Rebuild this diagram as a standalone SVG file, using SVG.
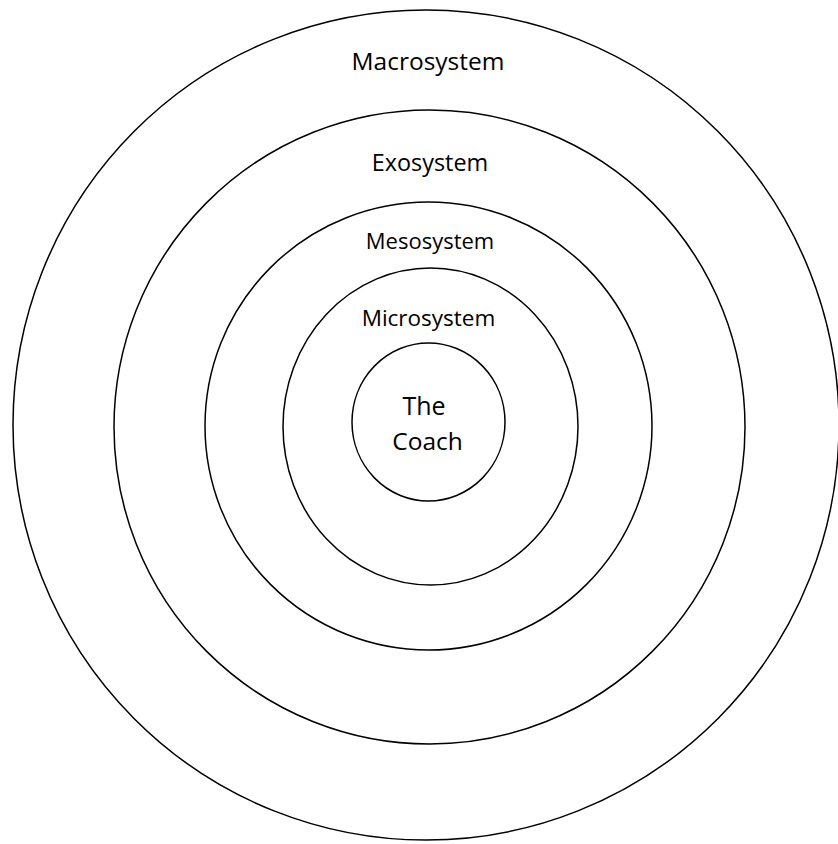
<svg xmlns="http://www.w3.org/2000/svg" width="838" height="844" viewBox="0 0 838 844">
  <style>
    .ring { fill: none; stroke: #000; stroke-width: 1.5; }
    .label { font-family: "Open Sans", "Noto Sans", sans-serif; fill: #000; text-anchor: middle; }
  </style>
  <rect width="838" height="844" fill="#fff"/>
  <g id="macrosystem">
    <ellipse class="ring" cx="426" cy="425" rx="413" ry="415"/>
    <text class="label" x="428" y="70" font-size="24.5">Macrosystem</text>
  </g>
  <g id="exosystem">
    <ellipse class="ring" cx="429.5" cy="427" rx="315.5" ry="317"/>
    <text class="label" x="430" y="171" font-size="23.4">Exosystem</text>
  </g>
  <g id="mesosystem">
    <ellipse class="ring" cx="428.5" cy="426" rx="223.5" ry="224"/>
    <text class="label" x="430" y="249" font-size="22">Mesosystem</text>
  </g>
  <g id="microsystem">
    <ellipse class="ring" cx="430.5" cy="426.5" rx="147.5" ry="158.5"/>
    <text class="label" x="428.5" y="326" font-size="22.5">Microsystem</text>
  </g>
  <g id="the-coach">
    <ellipse class="ring" cx="428.5" cy="422" rx="76.5" ry="79"/>
    <text class="label" x="424" y="415" font-size="25">The</text>
    <text class="label" x="427.5" y="450" font-size="24.5">Coach</text>
  </g>
</svg>
